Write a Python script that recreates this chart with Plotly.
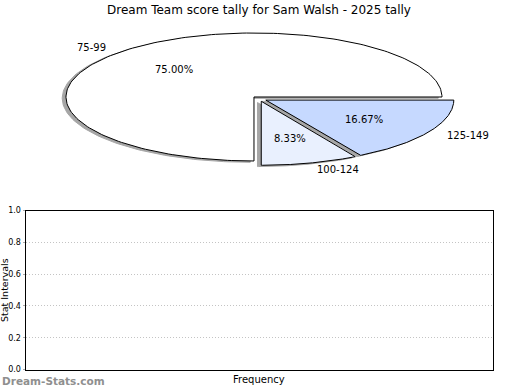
import numpy as np
import plotly.graph_objects as go

# ---- data ----
title_text = "Dream Team score tally for Sam Walsh - 2025 tally"
categories = ["75-99", "100-124", "125-149"]
counts = [9, 1, 2]
slice_colors = ["#ffffff", "#e9f0fe", "#c6d9ff"]
ytick_vals = [0.0, 0.2, 0.4, 0.6, 0.8, 1.0]
ytick_text = ["0.0", "0.2", "0.4", "0.6", "0.8", "1.0"]
x_title = "Frequency"
y_title = "Stat Intervals"
watermark = "Dream-Stats.com"

# ---- layout constants ----
W, H = 520, 390
FONT = "DejaVu Sans"
explode = 0.04
shadow_off = (-0.02, -0.02)
shadow_color = "#a6a6a6"

# pie axis mapping (pixels per data unit)
cx_px, cy_px = 259.3, 98.8
sx, sy = 188.0, 64.0
pie_dom_bottom_px = 195.0

fig = go.Figure()

# empty lower panel (no data plotted in the reference)
fig.add_trace(go.Scatter(x=[], y=[], mode="markers", xaxis="x", yaxis="y",
                         showlegend=False, hoverinfo="skip"))

fracs = np.array(counts, dtype=float) / np.sum(counts)
starts = np.concatenate([[0.0], np.cumsum(fracs)[:-1]]) * 360.0
ends = np.cumsum(fracs) * 360.0


def wedge(t1, t2, ox, oy):
    th = np.radians(np.linspace(t1, t2, 200))
    xs = np.concatenate([[ox], ox + np.cos(th), [ox]])
    ys = np.concatenate([[oy], oy + np.sin(th), [oy]])
    return xs, ys


geo = []
for t1, t2 in zip(starts, ends):
    mid = np.radians((t1 + t2) / 2)
    ox, oy = explode * np.cos(mid), explode * np.sin(mid)
    geo.append((t1, t2, mid, ox, oy))

# shadows
for (t1, t2, mid, ox, oy) in geo:
    xs, ys = wedge(t1, t2, ox + shadow_off[0], oy + shadow_off[1])
    fig.add_trace(go.Scatter(x=xs, y=ys, mode="lines", fill="toself",
                             fillcolor=shadow_color,
                             line=dict(color=shadow_color, width=1),
                             xaxis="x2", yaxis="y2", hoverinfo="skip",
                             showlegend=False))
# wedges
for (t1, t2, mid, ox, oy), c, name in zip(geo, slice_colors, categories):
    xs, ys = wedge(t1, t2, ox, oy)
    fig.add_trace(go.Scatter(x=xs, y=ys, mode="lines", fill="toself",
                             fillcolor=c, line=dict(color="black", width=1),
                             xaxis="x2", yaxis="y2", name=name,
                             showlegend=False))

annotations = []
for (t1, t2, mid, ox, oy), name, f in zip(geo, categories, fracs):
    lx = ox + 1.1 * np.cos(mid)
    ly = oy + 1.1 * np.sin(mid)
    annotations.append(dict(x=lx, y=ly, xref="x2", yref="y2", text=name,
                            showarrow=False,
                            xanchor="left" if lx > 0 else "right",
                            yanchor="middle",
                            font=dict(family=FONT, size=10, color="black")))
    px_ = ox + 0.6 * np.cos(mid)
    py_ = oy + 0.6 * np.sin(mid)
    annotations.append(dict(x=px_, y=py_, xref="x2", yref="y2",
                            text="%.2f%%" % (f * 100), showarrow=False,
                            xanchor="center", yanchor="middle",
                            font=dict(family=FONT, size=10, color="black")))

# texts in paper coords
annotations.append(dict(x=259 / W, y=1 - 10 / H, xref="paper", yref="paper",
                        text=title_text, showarrow=False, xanchor="center",
                        yanchor="middle",
                        font=dict(family=FONT, size=12, color="black")))
annotations.append(dict(x=259.4 / W, y=1 - 379 / H, xref="paper", yref="paper",
                        text=x_title, showarrow=False, xanchor="center",
                        yanchor="middle",
                        font=dict(family=FONT, size=10, color="black")))
annotations.append(dict(x=4 / W, y=1 - 290 / H, xref="paper", yref="paper",
                        text=y_title, showarrow=False, xanchor="center",
                        yanchor="middle", textangle=-90,
                        font=dict(family=FONT, size=9.5, color="black")))
annotations.append(dict(x=0, y=1 - 380.5 / H, xref="paper", yref="paper",
                        text="<b>%s</b>" % watermark, showarrow=False,
                        xanchor="left", yanchor="middle",
                        font=dict(family=FONT, size=10.5, color="#8f8f8f")))

ax_l, ax_r, ax_t, ax_b = 25.5, 493.3, 210.5, 369.5

fig.update_layout(
    width=W, height=H,
    margin=dict(l=0, r=0, t=0, b=0, pad=0),
    paper_bgcolor="white", plot_bgcolor="rgba(0,0,0,0)",
    showlegend=False,
    annotations=annotations,
    xaxis=dict(domain=[ax_l / W, ax_r / W], range=[0, 1], showticklabels=False,
               ticks="", showgrid=False, zeroline=False, showline=True,
               linecolor="black", linewidth=1, mirror=True, fixedrange=True,
               automargin=False, anchor="y"),
    yaxis=dict(domain=[1 - ax_b / H, 1 - ax_t / H], range=[0, 1],
               tickvals=ytick_vals, ticktext=ytick_text,
               tickfont=dict(family=FONT, size=8, color="black"),
               ticks="outside", ticklen=2, tickcolor="#aaaaaa",
               showgrid=True, gridcolor="#c4c4c4", griddash="1px,2px",
               gridwidth=1,
               zeroline=False, showline=True, linecolor="black", linewidth=1,
               mirror=True, fixedrange=True, automargin=False, anchor="x"),
    xaxis2=dict(domain=[0, 1], range=[-cx_px / sx, (W - cx_px) / sx],
                visible=False, fixedrange=True, anchor="y2"),
    yaxis2=dict(domain=[1 - pie_dom_bottom_px / H, 1],
                range=[-(pie_dom_bottom_px - cy_px) / sy, cy_px / sy],
                visible=False, fixedrange=True, anchor="x2"),
)

fig.write_html("out.html",
               config={"displayModeBar": False},
               post_script="document.body.style.margin='0';")
